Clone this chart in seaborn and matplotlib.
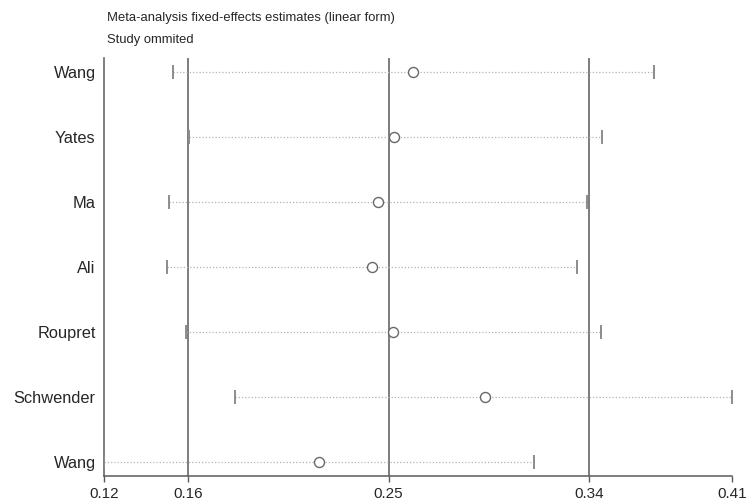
import matplotlib
matplotlib.use("Agg")
import matplotlib.pyplot as plt
import seaborn as sns
import pandas as pd

# study omitted, estimate and 95% CI
studies = ["Wang", "Yates", "Ma", "Ali", "Roupret", "Schwender", "Wang"]
estimate = [0.2628, 0.2541, 0.2464, 0.2438, 0.2534, 0.2958, 0.2193]
lower = [0.1520, 0.1591, 0.1499, 0.1493, 0.1578, 0.1803, 0.1200]
upper = [0.3740, 0.3498, 0.3429, 0.3384, 0.3493, 0.4100, 0.3184]

# overall fixed-effects estimate and CI (vertical lines)
overall = [0.1588, 0.2514, 0.3441]
tick_vals = [0.1200, 0.1588, 0.2514, 0.3441, 0.4100]
tick_labels = ["0.12", "0.16", "0.25", "0.34", "0.41"]

df = pd.DataFrame({"row": range(len(studies)), "study": studies,
                   "est": estimate, "lo": lower, "hi": upper})

sns.set_style("white")
plt.rcParams["font.family"] = ["Liberation Sans", "DejaVu Sans"]

fig = plt.figure(figsize=(7.49, 5.03), dpi=100)
ax = fig.add_axes([104 / 749, 27 / 503, 628 / 749, 418 / 503])

for v in overall:
    ax.axvline(v, color="#5a5a5a", lw=1.1, zorder=1)

ax.hlines(df["row"], df["lo"], df["hi"], colors="#b4b4b4",
          linestyles=(0, (1, 1.6)), lw=0.9, zorder=2)
ax.plot(df["lo"], df["row"], ls="none", marker="|", ms=10, mew=1.4,
        color="#8c8c8c", zorder=3)
ax.plot(df["hi"], df["row"], ls="none", marker="|", ms=10, mew=1.4,
        color="#8c8c8c", zorder=3)
sns.scatterplot(data=df, x="est", y="row", ax=ax, marker="o", s=52,
                facecolor="white", edgecolor="#686868", linewidth=1.0,
                zorder=4, legend=False)

ax.set_xlim(tick_vals[0], tick_vals[-1])
ax.set_ylim(6.22, -0.21)
ax.set_xticks(tick_vals)
ax.set_xticklabels(tick_labels, fontsize=11)
ax.set_yticks(df["row"])
ax.set_yticklabels(df["study"], fontsize=11.8)
ax.tick_params(axis="y", length=0, pad=6)
ax.tick_params(axis="x", length=4, width=1, color="#5a5a5a", pad=4,
               bottom=True)
ax.set_xlabel("")
ax.set_ylabel("")
for side in ["top", "right"]:
    ax.spines[side].set_visible(False)
for side in ["left", "bottom"]:
    ax.spines[side].set_color("#5a5a5a")
    ax.spines[side].set_linewidth(1.1)

fig.text(107 / 749, 1 - 18 / 503,
         "Meta-analysis fixed-effects estimates (linear form)",
         fontsize=9.4, va="center", ha="left")
fig.text(107 / 749, 1 - 40 / 503, "Study ommited",
         fontsize=9.4, va="center", ha="left")

fig.savefig("out.png", dpi=100)
